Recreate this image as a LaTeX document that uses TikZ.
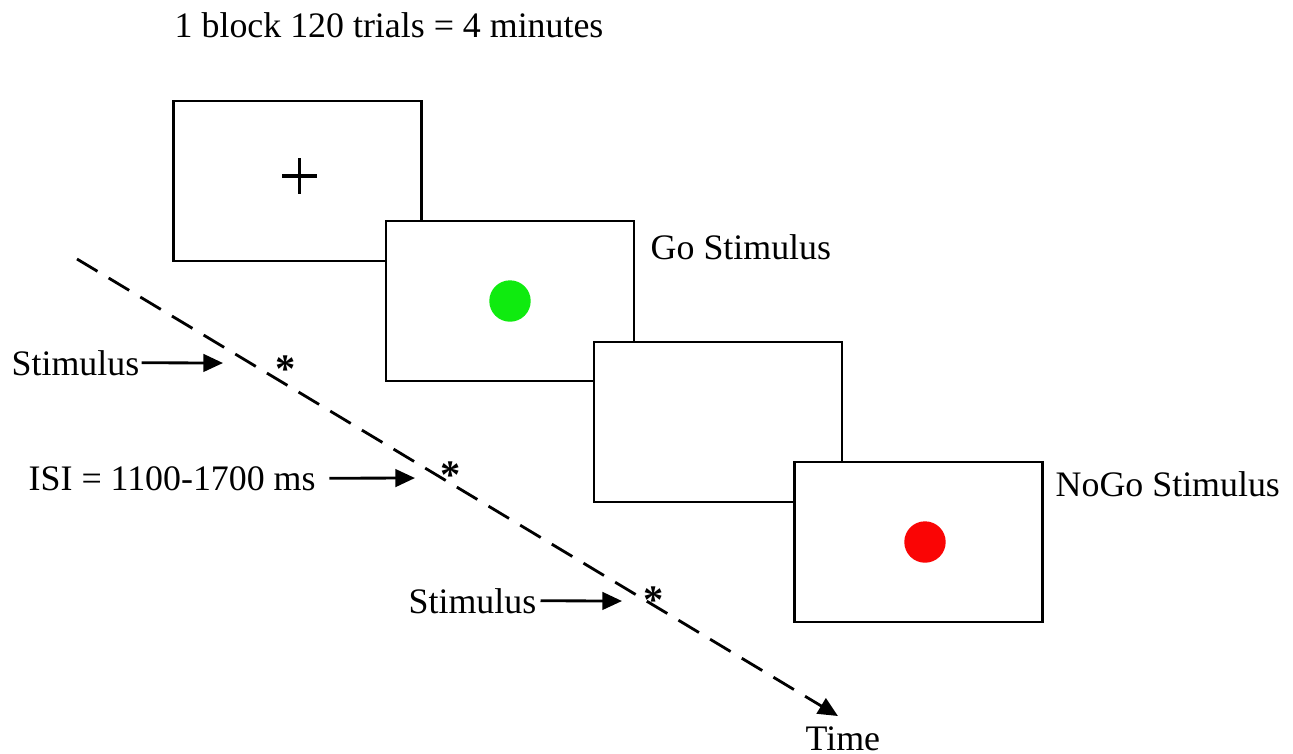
\documentclass[tikz,border=0pt]{standalone}
\usepackage{fontspec}
\setmainfont{Liberation Serif}
\usepackage{xcolor}
\usetikzlibrary{arrows.meta, positioning}
\definecolor{gogreen}{RGB}{15,235,15}
\definecolor{nogored}{RGB}{250,5,5}

\begin{document}
\begin{tikzpicture}[
  x=0.01cm, y=-0.01cm,
  screen/.style={draw, fill=white, line width=0.65pt, minimum width=2.48cm, minimum height=1.6cm, inner sep=0pt},
  lbl/.style={font=\fontsize{10.2}{12}\selectfont, inner sep=0pt, anchor=base west},
  starlbl/.style={font=\fontsize{11.5}{12}\selectfont\bfseries, inner sep=0pt, anchor=base},
  ptr/.style={-{Triangle[length=5.6pt, width=5pt]}, line width=0.8pt},
]
\useasboundingbox (0,0) rectangle (1293,753);
\node[lbl] (title) at (174,37) {1 block 120 trials = 4 minutes};
% screens, later ones on top
\node[screen] (fix) at (297.5,181) {};
\draw[line width=1pt] (282,176) -- (317,176) (299.5,158) -- (299.5,194);
\node[screen] (go) at (510,301) {};
\fill[gogreen] (go.center) circle[radius=0.207cm];
\node[screen] (blank) at (718,422) {};
\node[screen] (nogo) at (918.5,542) {};
\fill[nogored] (925,542) circle[radius=0.207cm];
\node[lbl] (golbl) at (650,259) {Go Stimulus};
\node[lbl] (nogolbl) at (1055,496) {NoGo Stimulus};
% time line
\coordinate (tstart) at (77,259);
\coordinate (tend) at (838,716);
\draw[ptr, dash pattern=on 6.8pt off 3.7pt] (tstart) -- (tend);
\node[lbl] (time) at (805,750) {Time};
\node[starlbl] (s1) at (286,382) {*};
\node[starlbl] (s2) at (451,488) {*};
\node[starlbl] (s3) at (654,613) {*};
% labels with arrows
\node[lbl] (stim1) at (11,375) {Stimulus};
\coordinate (tip1) at (223,363);
\draw[ptr, shorten <=0.5pt] (stim1.east) -- (tip1);
\node[lbl] (isi) at (28,490) {ISI = 1100-1700 ms};
\coordinate (tip2) at (415,478);
\draw[ptr, shorten <=3.7pt] (isi.east) -- (tip2);
\node[lbl] (stim2) at (408,613) {Stimulus};
\coordinate (tip3) at (622,601);
\draw[ptr, shorten <=1pt] (stim2.east) -- (tip3);
\end{tikzpicture}
\end{document}
